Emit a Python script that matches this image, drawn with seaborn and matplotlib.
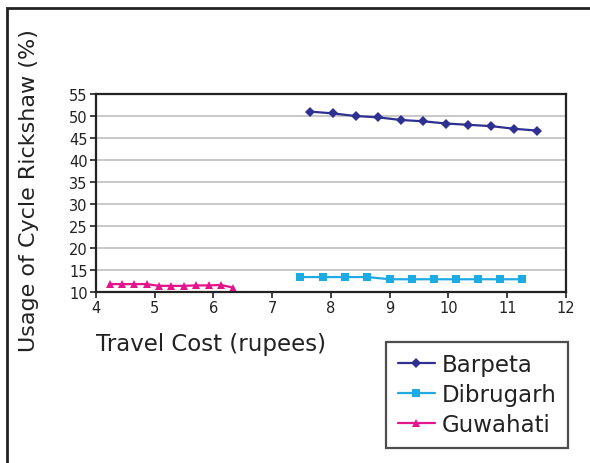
import pandas as pd
import numpy as np
import matplotlib
matplotlib.use("Agg")
import matplotlib.pyplot as plt
import seaborn as sns

# values
barpeta_x = [7.65, 8.03, 8.42, 8.80, 9.19, 9.57, 9.96, 10.34, 10.73, 11.12, 11.50]
barpeta_y = [51.0, 50.6, 50.0, 49.7, 49.1, 48.8, 48.3, 48.0, 47.7, 47.1, 46.7]

dibrugarh_x = [7.48, 7.86, 8.24, 8.62, 9.00, 9.38, 9.76, 10.13, 10.50, 10.88, 11.25]
dibrugarh_y = [13.4, 13.4, 13.4, 13.4, 12.9, 12.9, 12.9, 12.9, 12.9, 12.9, 12.9]

guwahati_x = [4.23, 4.44, 4.65, 4.86, 5.07, 5.28, 5.49, 5.70, 5.92, 6.13, 6.33]
guwahati_y = [11.8, 11.8, 11.8, 11.8, 11.4, 11.4, 11.4, 11.5, 11.5, 11.6, 11.0]

cities = ["Barpeta", "Dibrugarh", "Guwahati"]
colors = {"Barpeta": "#2e3192", "Dibrugarh": "#1eaae2", "Guwahati": "#e4148c"}
markers = {"Barpeta": "D", "Dibrugarh": "s", "Guwahati": "^"}

df = pd.concat([
    pd.DataFrame({"cost": barpeta_x, "usage": barpeta_y, "city": "Barpeta"}),
    pd.DataFrame({"cost": dibrugarh_x, "usage": dibrugarh_y, "city": "Dibrugarh"}),
    pd.DataFrame({"cost": guwahati_x, "usage": guwahati_y, "city": "Guwahati"}),
])

sns.set_theme(style="white")
plt.rcParams["font.family"] = ["DejaVu Sans"]

fig = plt.figure(figsize=(5.9, 4.64), dpi=100)
ax = fig.add_axes([0.1627, 0.3685, 0.7966, 0.4267])

sns.lineplot(data=df, x="cost", y="usage", hue="city", style="city",
             hue_order=cities, style_order=cities, palette=colors,
             markers=markers, dashes=False, markersize=5.5,
             markeredgewidth=0, linewidth=1.6, ax=ax)

ax.set_xlim(4, 12)
ax.set_ylim(10, 55)
ax.set_xticks(range(4, 13))
ax.set_yticks(range(10, 56, 5))
ax.yaxis.grid(True, color="#c8c8c8", linewidth=1.4)
ax.set_axisbelow(True)
for s in ax.spines.values():
    s.set_color("#222222")
    s.set_linewidth(1.6)
ax.tick_params(axis="both", which="major", direction="out", length=4, width=1.2,
               color="#222222", labelsize=10.5, labelcolor="#222222", pad=2,
               left=True, bottom=True)

ax.set_xlabel("Travel Cost (rupees)", fontsize=16.5, color="#222222")
ax.set_ylabel("Usage of Cycle Rickshaw (%)", fontsize=16, color="#222222")
ax.xaxis.set_label_coords(0.245, -0.2)
ax.yaxis.set_label_coords(-0.121, 0.515)

ax.legend_.remove()
handles, labels = ax.get_legend_handles_labels()
leg = fig.legend(handles, labels, loc="upper left",
                 bbox_to_anchor=(0.655, 0.261), bbox_transform=fig.transFigure,
                 borderaxespad=0, fontsize=16.5, frameon=True, fancybox=False,
                 handlelength=1.6, handletextpad=0.3, labelspacing=0.3,
                 borderpad=0.5)
leg.get_frame().set_edgecolor("#222222")
leg.get_frame().set_linewidth(1.6)
for t in leg.get_texts():
    t.set_color("#222222")

# outer frame around the whole chart (open on the right and bottom)
frame = plt.Rectangle((0.012, -0.1), 1.2, 1.0806, transform=fig.transFigure,
                      fill=False, edgecolor="#222222", linewidth=2)
fig.patches.append(frame)

fig.savefig("out.png", dpi=100)
